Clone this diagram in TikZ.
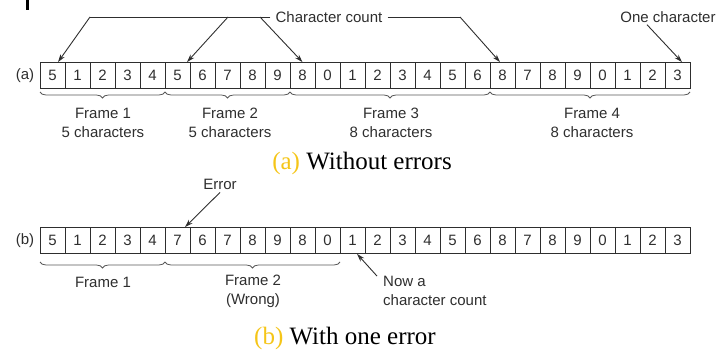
\documentclass[tikz,border=0pt]{standalone}
\usepackage{fontspec}
\setmainfont{Liberation Serif}
\newfontfamily\labelfont{Liberation Sans}
\usetikzlibrary{arrows.meta,decorations.pathreplacing,calc}
\definecolor{ink}{gray}{0.18}
\definecolor{gold}{RGB}{245,197,24}

\begin{document}
\begin{tikzpicture}[x=1pt,y=-1pt,
  cell/.style={draw=ink, line width=0.8pt, minimum width=25pt, minimum height=26pt,
               inner sep=0pt, text=ink, font=\labelfont\fontsize{15}{18}\selectfont},
  lbl/.style={text=ink, inner sep=1pt, font=\labelfont\fontsize{15}{19}\selectfont, align=center},
  pointer/.style={draw=ink, line width=0.9pt, -{Stealth[length=8pt,width=5pt]}},
  guide/.style={draw=ink, line width=0.9pt},
  brace/.style={draw=ink!80, line width=0.8pt,
                decorate, decoration={brace, mirror, amplitude=6pt}},
  caption/.style={font=\fontsize{25}{30}\selectfont, inner sep=0pt}]

\useasboundingbox (0,0) rectangle (722,350);
\fill[black] (26,0) rectangle (29,10);

% ---- (a) frames without errors ----
\node[lbl] (la) at (25,75.5) {(a)};
\foreach \d [count=\i from 0] in {5,1,2,3,4,5,6,7,8,9,8,0,1,2,3,4,5,6,8,7,8,9,0,1,2,3}
  \node[cell] (a\i) at (52.5+25*\i,75.5) {\d};

\draw[brace] (40,92) -- (165,92);
\draw[brace] (165,92) -- (290,92);
\draw[brace] (290,92) -- (490,92);
\draw[brace] (490,92) -- (690,92);

\node[lbl] (fa1) at (103,122.5) {Frame 1\\5 characters};
\node[lbl] (fa2) at (230,122.5) {Frame 2\\5 characters};
\node[lbl] (fa3) at (391,122.5) {Frame 3\\8 characters};
\node[lbl] (fa4) at (592,122.5) {Frame 4\\8 characters};

\node[lbl, inner sep=5pt] (cc) at (329,17) {Character count};
\coordinate (k1) at (90,17);
\coordinate (k2) at (228,17);
\coordinate (k3) at (260,17);
\coordinate (k4) at (460,17);
\draw[guide] (cc.west) -- (k1);
\draw[pointer] (k1) -- ([xshift=5.5pt]a0.north);
\draw[pointer] (k2) -- ([xshift=9.5pt]a5.north);
\draw[pointer] (k3) -- (a10.north);
\draw[guide] (cc.east) -- (k4);
\draw[pointer] (k4) -- ([xshift=-2.5pt]a18.north);

\node[lbl] (one) at (668,17) {One character};
\draw[pointer] ([xshift=-21pt,yshift=-1pt]one.south) -- ([xshift=4.5pt]a25.north);

\node[caption] (capa) at (362,163) {\textcolor{gold}{(a)} Without errors};

% ---- (b) frames with one error ----
\node[lbl] (lb) at (25,240.5) {(b)};
\foreach \d [count=\i from 0] in {5,1,2,3,4,7,6,7,8,9,8,0,1,2,3,4,5,6,8,7,8,9,0,1,2,3}
  \node[cell] (b\i) at (52.5+25*\i,240.5) {\d};

\draw[brace] (40,262) -- (165,262);
\draw[brace] (165,262) -- (340,262);

\node[lbl] (fb1) at (103,282) {Frame 1};
\node[lbl] (fb2) at (253,291) {Frame 2\\(Wrong)};

\node[lbl] (err) at (220,184) {Error};
\draw[pointer] ([yshift=-2pt]err.south) -- ([xshift=7.5pt]b5.north);

\node[lbl, align=left, anchor=west] (now) at (382,291) {Now a\\character count};
\draw[pointer] ([xshift=-5pt,yshift=-1pt]now.north west) -- ([xshift=4.5pt]b12.south);

\node[caption] (capb) at (345,338) {\textcolor{gold}{(b)} With one error};
\end{tikzpicture}
\end{document}
